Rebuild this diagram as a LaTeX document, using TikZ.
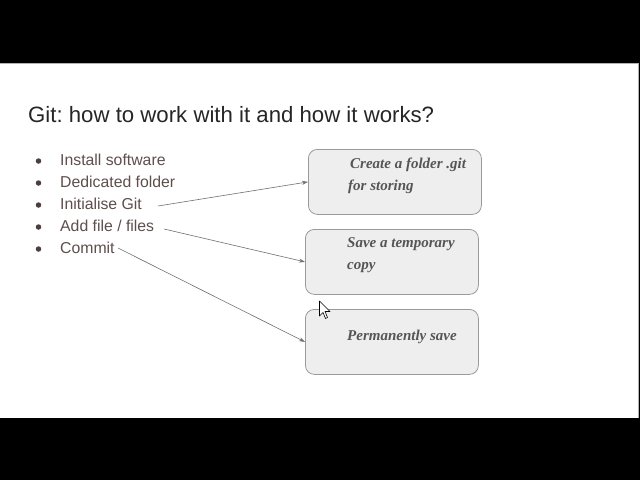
\documentclass[tikz,border=0pt]{standalone}
\usepackage{fontspec}
\setmainfont{Liberation Sans}
\newfontfamily\cardfont{Liberation Serif}
\usetikzlibrary{arrows.meta}
\frenchspacing
\definecolor{itemcol}{HTML}{5E4F4C}
\definecolor{boxfill}{HTML}{EEEEEE}
\definecolor{boxline}{HTML}{9A9A9A}
\definecolor{arrcol}{HTML}{707070}
\definecolor{boxtext}{HTML}{555555}
\tikzset{
  item/.style={anchor=west, inner sep=0pt, text=itemcol, font=\fontsize{15.8}{16}\selectfont},
  dot/.style={circle, fill=itemcol!80!black, inner sep=0pt, minimum size=5.5pt},
  card/.style={draw=boxline, fill=boxfill, rounded corners=9pt, line width=0.8pt, minimum width=173pt, minimum height=65pt, anchor=north west},
  cardtext/.style={anchor=north west, inner sep=0pt, align=left, text=boxtext, font=\cardfont\bfseries\itshape\fontsize{15}{22}\selectfont},
  link/.style={draw=arrcol, line width=0.6pt, -{Stealth[length=6pt,width=4pt]}}
}
\begin{document}
\begin{tikzpicture}[x=1pt,y=-1pt]
\useasboundingbox (0,0) rectangle (640,480);
\fill[black] (0,0) rectangle (640,480);
\fill[white] (0,63) rectangle (638,418);
\draw[gray!60, line width=0.8pt] (0,63.5) -- (638.5,63.5) -- (638.5,418);
\node[anchor=base west, inner sep=0pt, text=black!85, font=\fontsize{22.2}{24}\selectfont] (title) at (28,122.5) {Git: how to work with it and how it works?};
\foreach \i/\y in {1/160,2/182,3/204,4/226,5/248}{
  \node[dot] (d\i) at (38.5,\y+1) {};
}
\node[item] (i1) at (60,160) {Install software};
\node[item] (i2) at (60,182) {Dedicated folder};
\node[item] (i3) at (60,204) {Initialise Git};
\node[item] (i4) at (60,226) {Add file / files};
\node[item] (i5) at (60,248) {Commit};
\node[card] (b1) at (308,149) {};
\node[card] (b2) at (305,229) {};
\node[card] (b3) at (305,309) {};
\node[cardtext] (t1) at (348,157.5) {\hspace*{2pt}Create a folder .git\\for storing};
\node[cardtext] (t2) at (347,237.5) {Save a temporary\\copy};
\node[cardtext] (t3) at (347,329.5) {Permanently save};
\coordinate (s1) at (158,206);
\coordinate (s2) at (164,229);
\coordinate (s3) at (118,248);
\draw[link] (s1) -- (b1.west);
\draw[link] (s2) -- (b2.west);
\draw[link] (s3) -- (b3.west);
% mouse cursor
\draw[black, fill=white, line width=0.6pt, line join=round] (319.5,301) -- (319.5,316) -- (323,312.5) -- (325.5,318.5) -- (327.5,317.5) -- (325,311.5) -- (330,311.5) -- cycle;
\end{tikzpicture}
\end{document}
